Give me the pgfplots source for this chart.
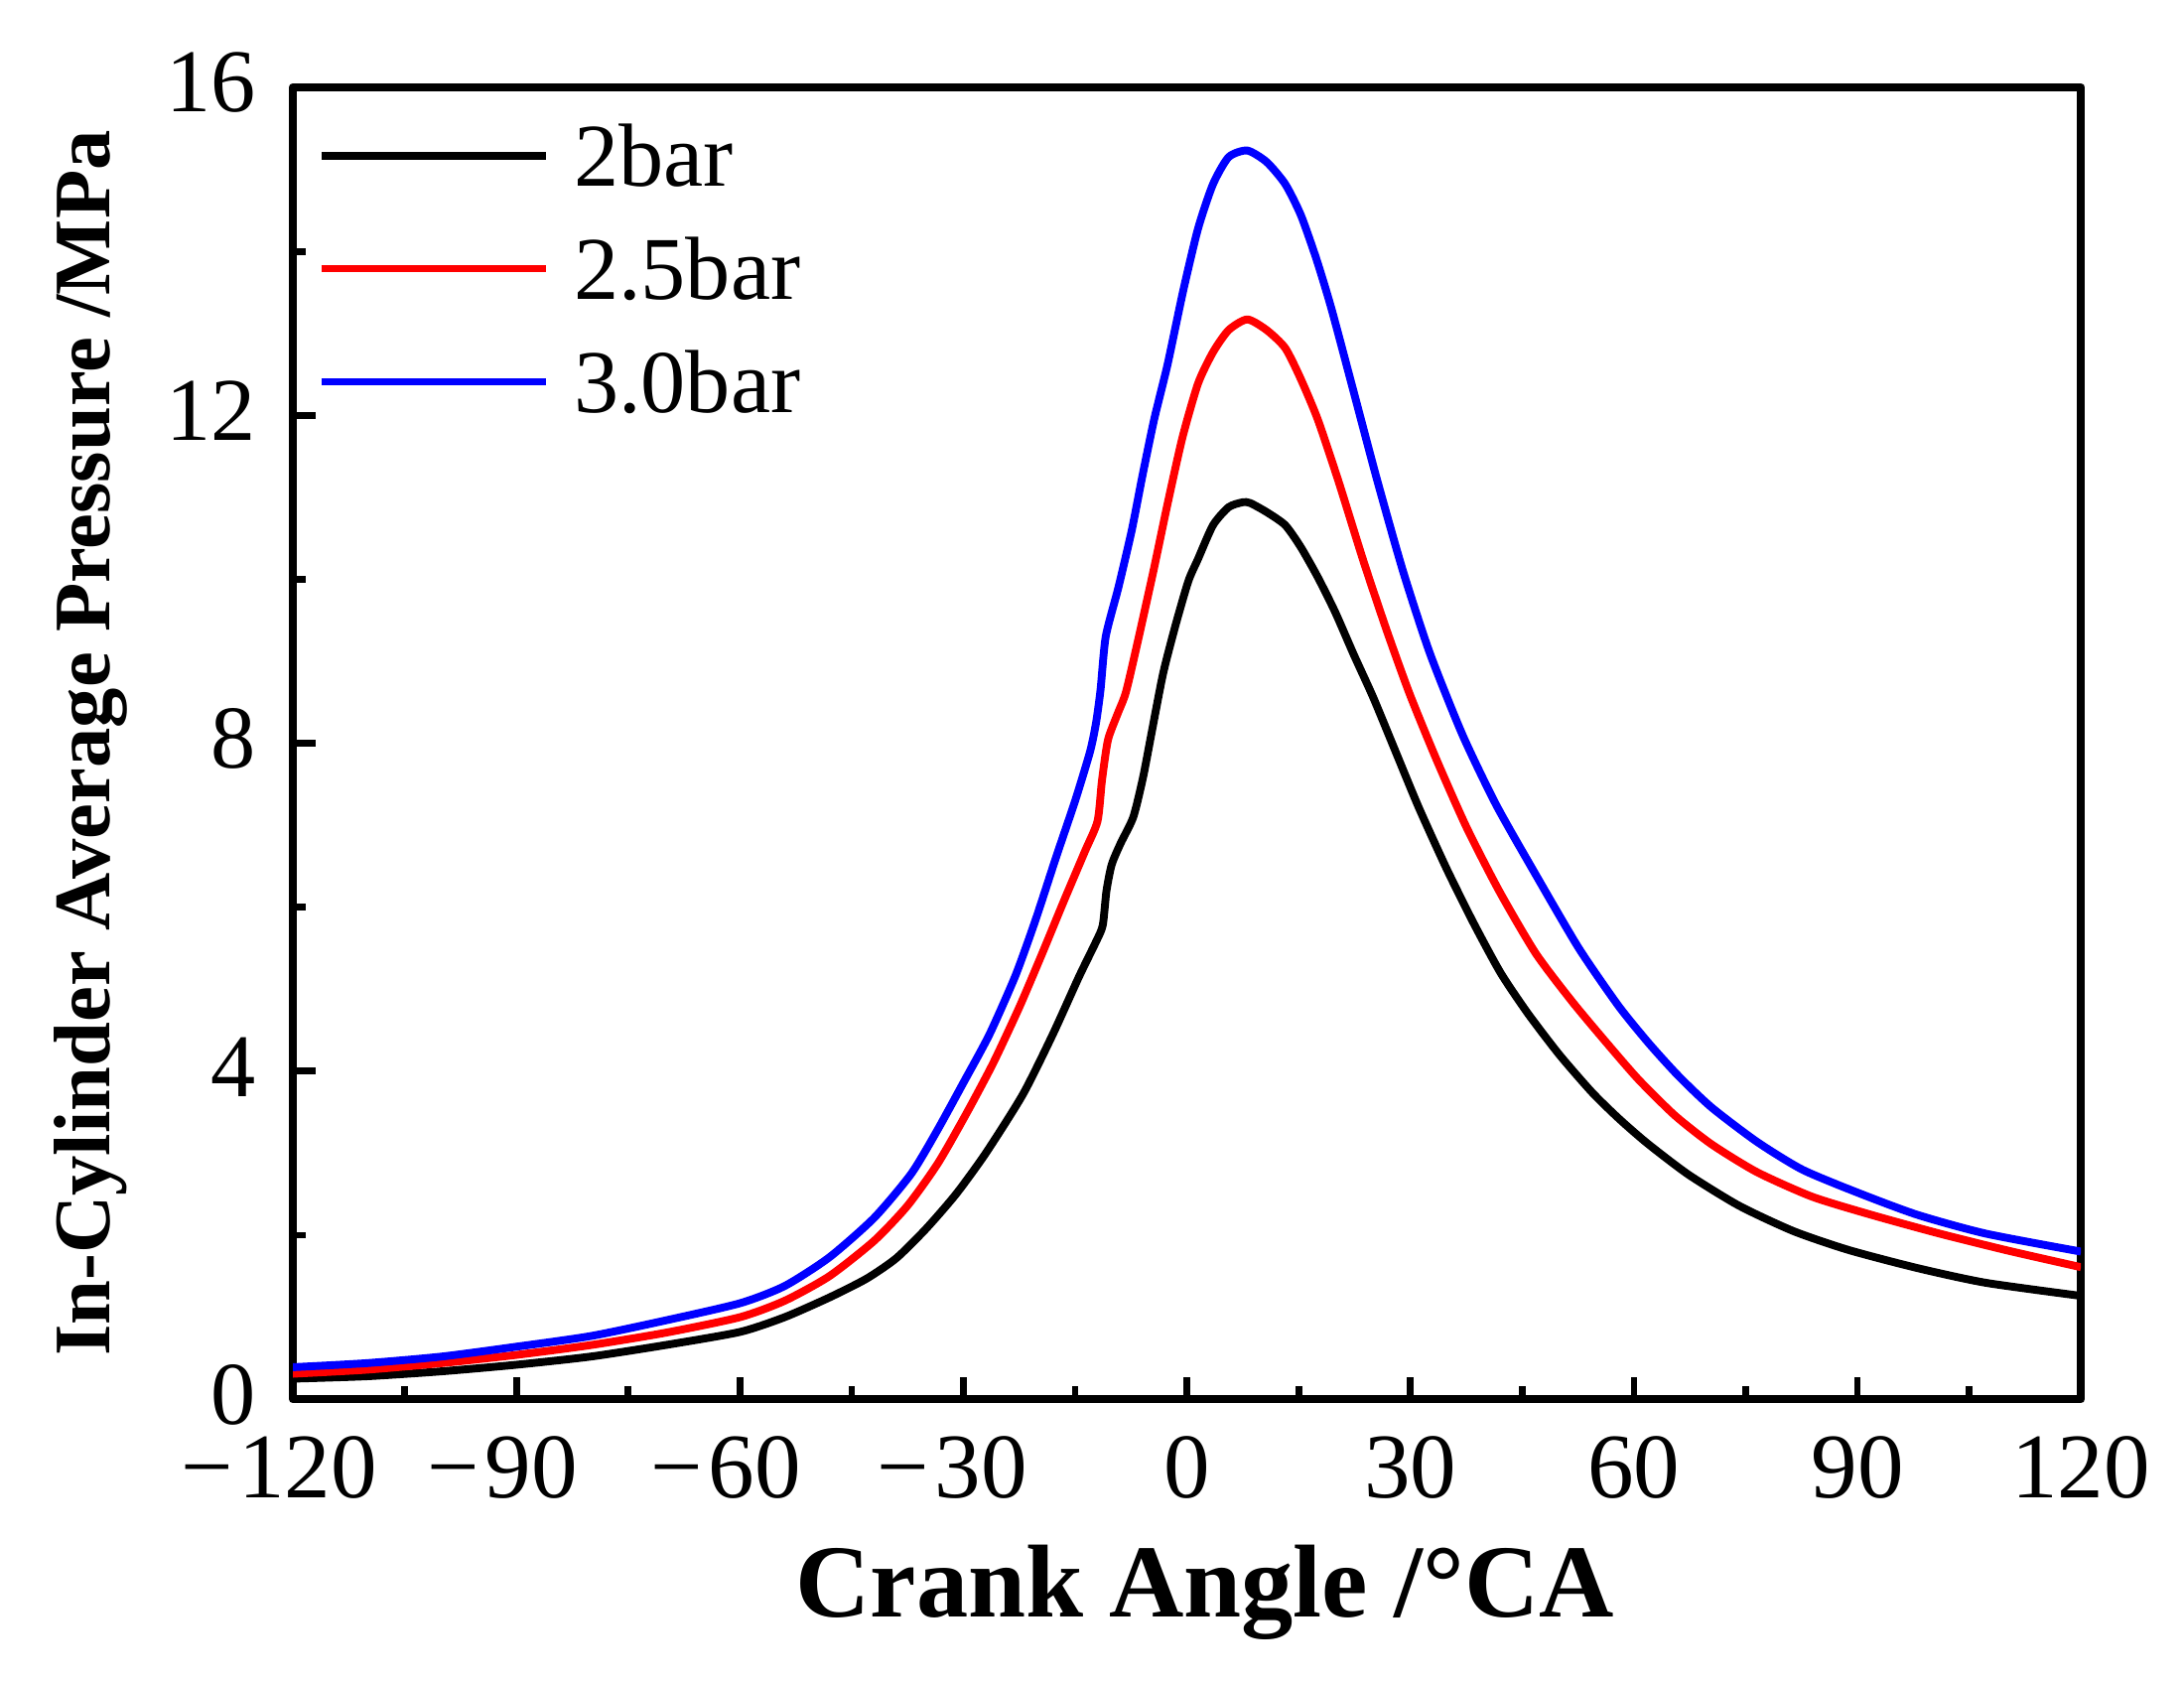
\documentclass[border=0pt]{standalone}
\usepackage{fontspec}
\setmainfont{Liberation Serif}
\usepackage{pgfplots}
\usepackage{pgfplotstable}
\pgfplotsset{compat=1.18}
\pgfplotstableread{
x y
-120 0.25
-110 0.28
-100 0.34
-90 0.42
-80 0.52
-70 0.66
-60 0.82
-54 1.00
-48 1.24
-43 1.47
-39 1.72
-35 2.08
-31 2.50
-27 3.00
-22 3.72
-18 4.45
-14.5 5.15
-12.2 5.58
-11.3 5.78
-10.8 6.20
-10.1 6.52
-8.9 6.78
-7.2 7.10
-5.9 7.58
-4.8 8.10
-3.2 8.85
-1.5 9.45
0.2 9.98
1.5 10.25
3.5 10.66
5.6 10.88
7.5 10.94
8.5 10.93
10.7 10.82
13.2 10.66
15.3 10.39
17.6 10.02
19.9 9.60
22.4 9.08
25 8.56
28 7.90
31.1 7.22
34.8 6.48
38.4 5.82
42.1 5.20
45.8 4.70
50 4.20
54.4 3.74
58 3.42
61.8 3.12
67.3 2.74
74.1 2.36
81.4 2.05
88.8 1.82
98 1.60
107.2 1.42
120 1.26
}\bartwo
\pgfplotstableread{
x y
-120 0.31
-110 0.36
-100 0.44
-90 0.54
-80 0.66
-70 0.81
-60 1.00
-54 1.20
-48 1.50
-42 1.93
-37.5 2.36
-33.4 2.88
-29.5 3.50
-26 4.10
-22.5 4.78
-19.5 5.42
-16.5 6.08
-13.7 6.68
-12 7.05
-11.4 7.55
-10.6 8.04
-9.3 8.36
-8.2 8.62
-6.7 9.20
-4.5 10.10
-2.6 10.92
-0.6 11.73
1.5 12.39
3.5 12.77
5.6 13.04
8.1 13.17
10.7 13.04
13.2 12.82
15.3 12.44
17.6 11.94
20.4 11.18
23.7 10.22
26.8 9.38
29.9 8.60
33.5 7.80
37.5 6.98
41.9 6.20
46.8 5.44
51.7 4.85
56.2 4.36
60.6 3.90
65.5 3.46
70.4 3.11
76.5 2.77
83.9 2.47
91.8 2.25
101 2.02
110.3 1.81
120 1.61
}\bartwofive
\pgfplotstableread{
x y
-120 0.39
-110 0.44
-100 0.52
-90 0.64
-80 0.77
-70 0.96
-60 1.17
-54 1.38
-48 1.73
-42 2.21
-37 2.75
-33.5 3.28
-30 3.86
-26.5 4.45
-23 5.17
-20.3 5.85
-17.6 6.60
-15 7.30
-13 7.90
-12.2 8.25
-11.6 8.65
-10.9 9.30
-9.2 9.90
-7.4 10.60
-6 11.25
-4.4 11.95
-2.6 12.62
-0.5 13.52
1.5 14.28
3.5 14.82
5.6 15.15
8.1 15.23
10.7 15.09
13.2 14.82
15.3 14.44
17.4 13.90
19.4 13.30
22.4 12.28
25.5 11.22
29 10.10
32.6 9.10
37 8.10
41.5 7.25
46.8 6.40
52.6 5.50
57.9 4.80
62 4.34
66 3.94
70.4 3.56
76.5 3.14
82.6 2.80
90 2.52
98 2.25
107.2 2.02
120 1.80
}\barthree
\begin{document}
\begin{tikzpicture}
\useasboundingbox (-52.3pt,-50.5pt) rectangle (337.7pt,249.8pt);
\begin{axis}[
  at={(0,0)}, anchor=south west,
  scale only axis, width=319.3pt, height=234.2pt,
  xmin=-120, xmax=120, ymin=0, ymax=16,
  xtick={-120,-90,...,120},
  xticklabels={−\kern1pt120\kern5pt,−\kern1pt90\kern5pt,−\kern1pt60\kern5pt,−\kern1pt30\kern4pt,0,30,60,90,120},
  ytick={0,4,8,12,16},
  minor x tick num=1, minor y tick num=1,
  tick pos=left, tick align=inside,
  major tick length=4pt, minor tick length=2.3pt,
  every tick/.style={black, line width=1.2pt},
  axis line style={line width=1.5pt},
  ticklabel style={inner sep=0pt},
  xticklabel style={font=\fontsize{16.5}{16.5}\selectfont, yshift=-6.4pt},
  yticklabel style={font=\fontsize{16}{16}\selectfont, xshift=-6.4pt, yshift=0.8pt},
  /pgf/number format/assume math mode=true,
  xlabel={\textbf{Crank Angle /°CA}},
  ylabel={\textbf{In-Cylinder Average Pressure /MPa}},
  xlabel style={font=\fontsize{18.5}{18.5}\selectfont, at={(axis description cs:0.51,-0.1657)}, anchor=base},
  ylabel style={font=\fontsize{14.3}{14.3}\selectfont, at={(axis description cs:-0.1025,0.5)}, anchor=base},
  legend cell align=left,
  legend style={draw=none, fill=none, at={(axis description cs:0.0134,0.972)}, anchor=north west,
    font=\fontsize{16}{16}\selectfont, row sep=9.3pt, column sep=4.4pt, inner sep=0pt,
    nodes={inner sep=0pt, text height=10.9pt, text depth=0pt}},
  legend image code/.code={\draw[#1, line width=1.3pt] (0pt,0pt) -- (40pt,0pt);},
  line join=round,
]
\addplot[black, line width=1.4pt, smooth, tension=0.4] table[x=x,y=y] {\bartwo};
\addlegendentry{2bar}
\addplot[red, line width=1.4pt, smooth, tension=0.4] table[x=x,y=y] {\bartwofive};
\addlegendentry{2.5bar}
\addplot[blue, line width=1.4pt, smooth, tension=0.4] table[x=x,y=y] {\barthree};
\addlegendentry{3.0bar}
\end{axis}
\end{tikzpicture}
\end{document}
